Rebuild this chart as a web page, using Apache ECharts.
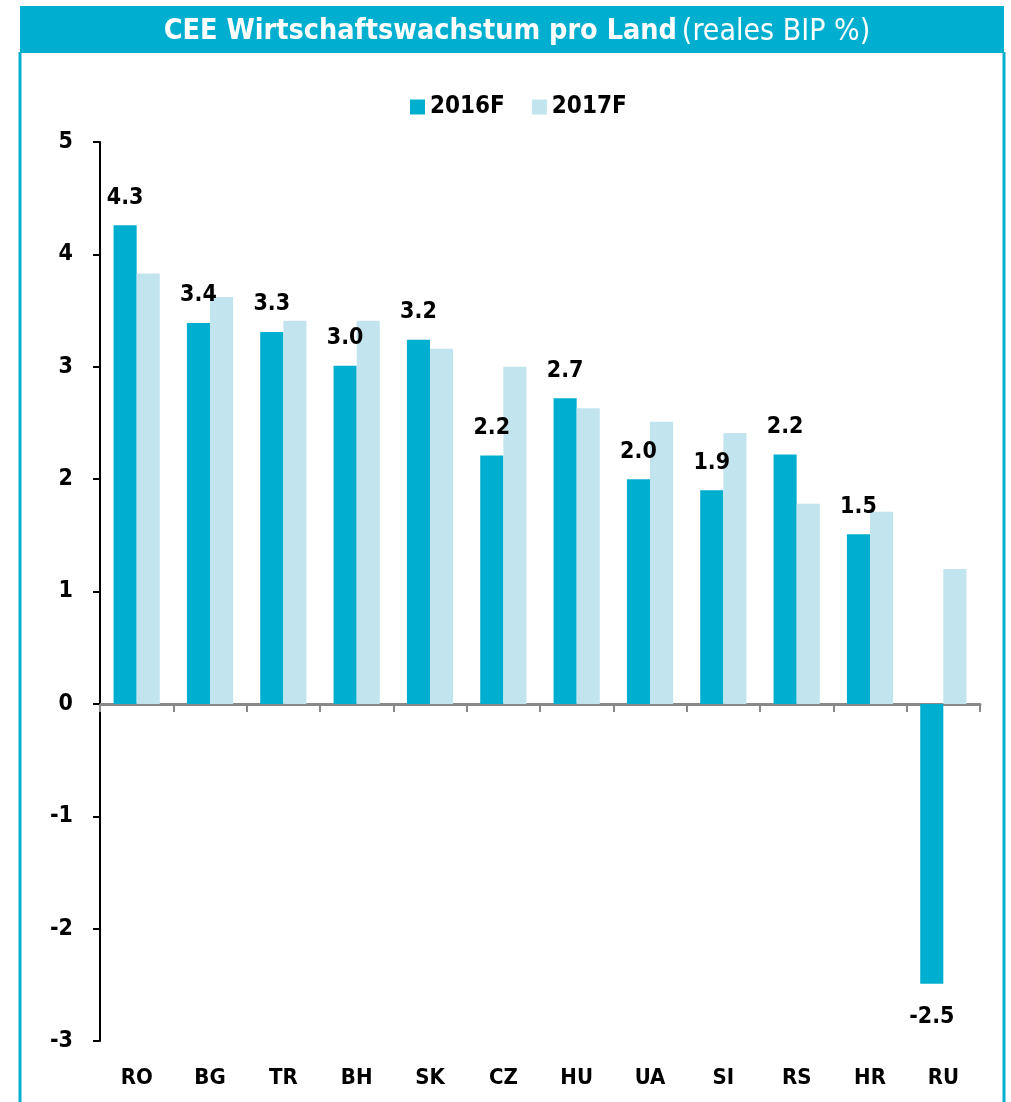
<!DOCTYPE html>
<html>
<head>
<meta charset="utf-8">
<script src="https://cdn.jsdelivr.net/npm/echarts@6/dist/echarts.min.js"></script>
<style>
html,body{margin:0;padding:0;background:#fff;}
#chart{width:1011px;height:1102px;}
</style>
</head>
<body>
<div id="chart"></div>
<script>
const categories = ['RO','BG','TR','BH','SK','CZ','HU','UA','SI','RS','HR','RU'];
const values2016 = [4.26, 3.39, 3.31, 3.01, 3.24, 2.21, 2.72, 2.00, 1.90, 2.22, 1.51, -2.49];
const values2017 = [3.83, 3.62, 3.41, 3.41, 3.16, 3.00, 2.63, 2.51, 2.41, 1.78, 1.71, 1.20];
const seriesNames = ['2016F', '2017F'];
const yTicks = {min: -3, max: 5, interval: 1};

const FONT = "'DejaVu Sans Condensed', 'DejaVu Sans', sans-serif";
const BLUE = '#00AFD0';
const LIGHT = '#C1E4EE';

const chart = echarts.init(document.getElementById('chart'), null, {renderer: 'canvas'});

const data2016 = values2016.map(v => v < 0
  ? {value: v, label: {position: 'bottom', distance: 22}}
  : v);

chart.setOption({
  animation: false,
  backgroundColor: '#fff',
  title: {
    text: '{b|CEE Wirtschaftswachstum pro Land} {n|(reales BIP %)}',
    left: 512, textAlign: 'center',
    top: 12,
    textStyle: {
      rich: {
        b: {fontFamily: FONT, fontWeight: 'bold', fontSize: 28.5, color: '#fff'},
        n: {fontFamily: FONT, fontWeight: 'normal', fontSize: 30, color: '#fff'}
      }
    }
  },
  graphic: [
    {type: 'rect', z: -1, shape: {x: 20, y: 6, width: 984, height: 47}, style: {fill: BLUE}},
    {type: 'line', shape: {x1: 20, y1: 52, x2: 20, y2: 1102}, style: {stroke: BLUE, lineWidth: 3}},
    {type: 'line', shape: {x1: 1004, y1: 52, x2: 1004, y2: 1102}, style: {stroke: BLUE, lineWidth: 3}}
  ],
  legend: {
    top: 90,
    left: 405,
    itemWidth: 15,
    itemHeight: 15,
    itemGap: 27,
    itemTextGap: 9,
    icon: 'rect',
    textStyle: {fontFamily: FONT, fontWeight: 'bold', fontSize: 24, color: '#000'},
    data: seriesNames
  },
  grid: {left: 100, right: 31, top: 142, bottom: 61, containLabel: false},
  xAxis: [
    {
      type: 'category',
      data: categories,
      axisLine: {onZero: true, lineStyle: {color: '#888', width: 3}},
      axisTick: {show: true, length: 8, lineStyle: {color: '#888', width: 2}},
      axisLabel: {show: false},
      splitLine: {show: false}
    },
    {
      type: 'category',
      data: categories,
      position: 'bottom',
      axisLine: {show: false, onZero: false},
      axisTick: {show: false},
      axisLabel: {show: true, margin: 26, fontFamily: FONT, fontWeight: 'bold', fontSize: 22, color: '#000'},
      splitLine: {show: false}
    }
  ],
  yAxis: {
    type: 'value',
    min: yTicks.min, max: yTicks.max, interval: yTicks.interval,
    axisLine: {show: true, lineStyle: {color: '#000', width: 2}},
    axisTick: {show: true, length: 7, lineStyle: {color: '#000', width: 2}},
    axisLabel: {margin: 27, fontFamily: FONT, fontWeight: 'bold', fontSize: 23, color: '#000'},
    splitLine: {show: false}
  },
  series: [
    {
      name: seriesNames[0],
      type: 'bar',
      xAxisIndex: 0,
      data: data2016,
      barGap: '0%',
      barCategoryGap: '37%',
      itemStyle: {color: BLUE},
      label: {
        show: true, position: 'top', distance: 16,
        fontFamily: FONT, fontWeight: 'bold', fontSize: 23, color: '#000',
        formatter: p => Number(p.value).toFixed(1)
      }
    },
    {
      name: seriesNames[1],
      type: 'bar',
      xAxisIndex: 0,
      data: values2017,
      barGap: '0%',
      barCategoryGap: '37%',
      itemStyle: {color: LIGHT}
    }
  ]
});
</script>
</body>
</html>
